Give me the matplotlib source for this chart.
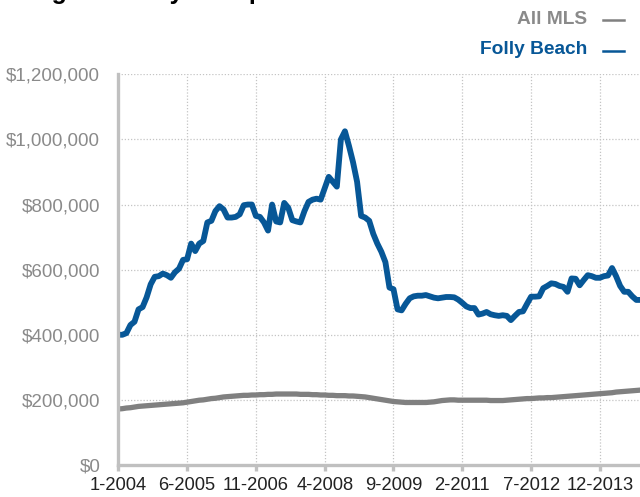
import matplotlib
matplotlib.use('Agg')
import matplotlib.pyplot as plt
from matplotlib import font_manager

# monthly averages starting 1-2004, values in dollars
folly_beach = [400, 400, 405, 430, 440, 478, 485, 515, 555, 578, 580, 588,
               583, 575, 592, 603, 630, 632, 680, 657, 680, 688, 745, 750,
               780, 795, 785, 760, 760, 762, 770, 798, 800, 800, 765, 762,
               745, 720, 800, 748, 745, 805, 790, 752, 748, 745, 780, 808,
               815, 818, 815, 850, 885, 870, 855, 1000, 1025, 980, 930, 870,
               765, 760, 750, 710, 680, 655, 623, 545, 540, 478, 475, 495,
               512, 518, 520, 520, 522, 518, 514, 512, 514, 516, 516, 515,
               508, 498, 487, 482, 482, 462, 465, 470, 463, 460, 458, 460,
               458, 445, 458, 470, 472, 495, 517, 517, 518, 543, 550, 558,
               556, 550, 547, 532, 573, 572, 552, 568, 583, 580, 575, 575,
               580, 582, 605, 580, 550, 532, 532, 518, 507, 507]
all_mls = [172, 173, 175, 176, 178, 180, 181, 182, 183, 184, 185, 186,
           187, 188, 189, 190, 191, 193, 195, 197, 199, 200, 202, 204,
           205, 207, 209, 210, 211, 212, 213, 214, 214, 215, 215, 216,
           216, 217, 217, 218, 218, 218, 218, 218, 218, 217, 217, 217,
           216, 216, 215, 215, 214, 214, 213, 213, 213, 212, 212, 211,
           210, 209, 207, 205, 203, 201, 199, 197, 195, 194, 193, 192,
           192, 192, 192, 192, 192, 193, 194, 196, 198, 199, 200, 200,
           199, 199, 199, 199, 199, 199, 199, 199, 198, 198, 198, 198,
           199, 200, 201, 202, 203, 204, 204, 205, 206, 206, 207, 207,
           208, 209, 210, 211, 212, 213, 214, 215, 216, 217, 218, 219,
           220, 221, 222, 224, 225, 226, 227, 228, 229, 230]
tick_months = [0, 17, 34, 51, 68, 85, 102, 119]
tick_labels = ["1-2004", "6-2005", "11-2006", "4-2008", "9-2009", "2-2011", "7-2012", "12-2013"]
y_ticks = [0, 200000, 400000, 600000, 800000, 1000000, 1200000]

names = set(f.name for f in font_manager.fontManager.ttflist)
narrow = 'Liberation Sans Narrow' if 'Liberation Sans Narrow' in names else 'Liberation Sans'
plt.rcParams['font.family'] = ['Liberation Sans', 'DejaVu Sans']

BLUE = '#075797'
GRAY = '#808080'

fig = plt.figure(figsize=(6.4, 4.97), dpi=100)
ax = fig.add_axes([118.3/640, 32/497, 1 - 118.3/640, 390.7/497])

months = list(range(len(folly_beach)))
ax.plot(months, [v*1000 for v in all_mls], color=GRAY, lw=3.8, solid_joinstyle='round', zorder=3)
ax.plot(months, [v*1000 for v in folly_beach], color=BLUE, lw=4.2, solid_joinstyle='round', zorder=4)

ax.set_xlim(0, (640 - 118.3)/4.047)
ax.set_ylim(0, 1200000)
ax.set_xticks(tick_months)
ax.set_xticklabels(tick_labels, fontsize=13.2, color='#222222')
ax.set_yticks(y_ticks)
ax.set_yticklabels(['${:,}'.format(v) for v in y_ticks], fontsize=13.5, color='#8a8a8a')

ax.grid(True, color='#c4c4c4', linestyle=(0, (1, 1.5)), linewidth=0.9, zorder=0)
for s in ['top', 'right']:
    ax.spines[s].set_visible(False)
for s in ['left', 'bottom']:
    ax.spines[s].set_color('#c0c0c0')
    ax.spines[s].set_linewidth(2.4)
    ax.spines[s].set_zorder(5)
ax.tick_params(axis='x', length=4, width=2.4, color='#c0c0c0', pad=5)
ax.tick_params(axis='y', length=0, pad=13)
ax.set_axisbelow(True)

# legend as right-aligned text with dash
fig.text(587/640, 1 - 19/497, "All MLS", ha='right', va='center', fontsize=13.8,
         fontweight='bold', color='#8a8a8a', family=narrow)
fig.text(587/640, 1 - 50/497, "Folly Beach", ha='right', va='center', fontsize=13.8,
         fontweight='bold', color=BLUE, family=narrow)
fig.add_artist(plt.Line2D([603/640, 624/640], [1 - 20/497]*2, color=GRAY, lw=1.8))
fig.add_artist(plt.Line2D([603/640, 624/640], [1 - 51/497]*2, color=BLUE, lw=1.8))

# title, cropped at top of the picture
fig.text(-17/640, 1 + 1/497, "Average Monthly Sale price", ha='left', va='baseline',
         fontsize=18, fontweight='bold', color='black')

fig.savefig('out.png', dpi=100)
